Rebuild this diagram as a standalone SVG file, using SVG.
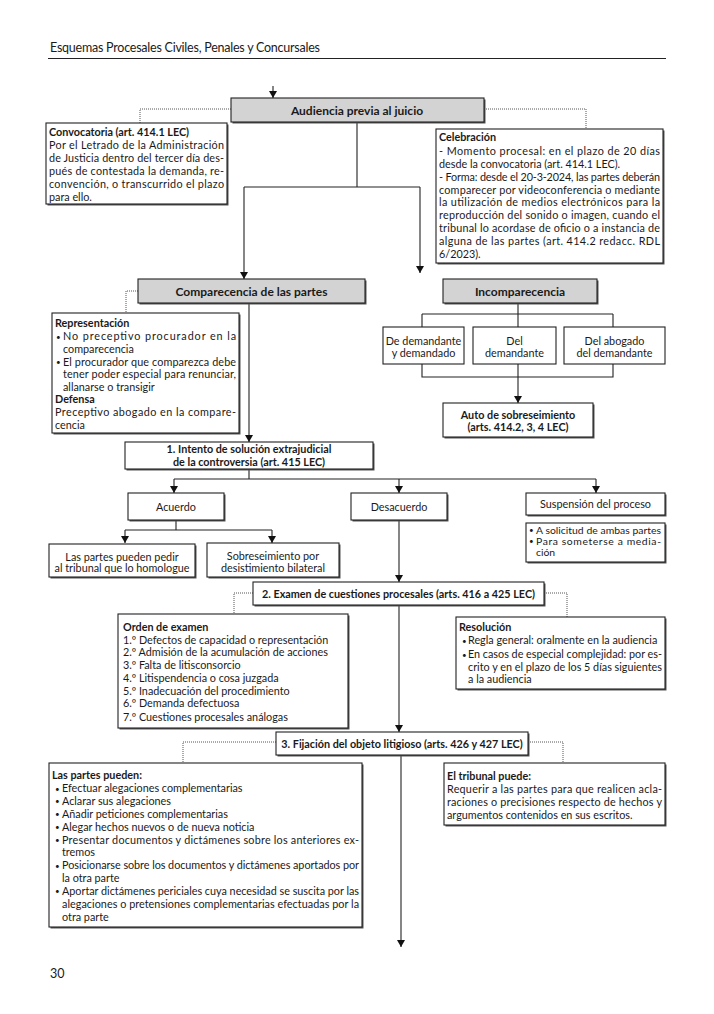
<svg xmlns="http://www.w3.org/2000/svg" width="714" height="1014" viewBox="0 0 714 1014">
<defs>
<marker id="ah" markerUnits="userSpaceOnUse" markerWidth="7" markerHeight="8" refX="7" refY="4" orient="auto" viewBox="0 0 7 8">
<path d="M0,0 L7,4 L0,8 Z" fill="#111"/>
</marker>
</defs>
<style>
text{font-family:Lato,"Liberation Sans",sans-serif;font-size:10.8px;fill:#1a1a1a}
.b{font-weight:bold}
.c{text-anchor:middle}
.h{font-size:12px;font-weight:bold}
.bu{font-size:8px}
.sm{font-size:10.4px}
.box{fill:#fff;stroke:#222;stroke-width:1.1}
.gray{fill:#d3d3d3;stroke:#222;stroke-width:1.1}
.sh{fill:#555}
.ln{fill:none;stroke:#222;stroke-width:1.1}
.ar{fill:none;stroke:#222;stroke-width:1.1;marker-end:url(#ah)}
.dot{fill:none;stroke:#555;stroke-width:1;stroke-dasharray:1 1}
</style>
<rect width="714" height="1014" fill="#fff"/>
<text x="50" y="52" style="font-size:12.5px" textLength="270" lengthAdjust="spacing">Esquemas Procesales Civiles, Penales y Concursales</text>
<line x1="48" y1="58.5" x2="666" y2="58.5" stroke="#222" stroke-width="1"/>
<text x="50" y="978" style="font-size:12.5px">30</text>

<g id="connectors">
<path class="ar" d="M273,86 V98"/>
<path class="ln" d="M357,122 V187 M244,187 H420"/>
<path class="ar" d="M244,187 V279"/>
<path class="ar" d="M420,187 V273"/>
<path class="dot" d="M231,109 H140 V123"/>
<path class="dot" d="M484,109 H586 V129"/>
<path class="dot" d="M138,291 H126 V313"/>
<path class="ar" d="M249,303 V442"/>
<path class="ln" d="M518,303 V327 M422,314 H613 M422,314 V327 M613,314 V327"/>
<path class="ln" d="M422,364 V377 H613 V364"/>
<path class="ar" d="M518,364 V403"/>
<path class="ln" d="M249,469 V479 M174,479 H596"/>
<path class="ar" d="M174,479 V493"/>
<path class="ar" d="M399,479 V493"/>
<path class="ar" d="M596,479 V493"/>
<path class="ln" d="M176,520 V530 M125,530 H272"/>
<path class="ar" d="M125,530 V543"/>
<path class="ar" d="M272,530 V543"/>
<path class="ar" d="M399,520 V582"/>
<path class="dot" d="M253,593 H234 V614"/>
<path class="dot" d="M544,593 H567 V617"/>
<path class="ar" d="M399,605 V732"/>
<path class="dot" d="M276,742 H183 V763"/>
<path class="dot" d="M528,742 H563 V763"/>
<path class="ar" d="M401,755 V947"/>
</g>

<g id="audiencia">
<rect class="sh" x="232.5" y="99.5" width="253" height="24"/>
<rect class="gray" x="231" y="98" width="253" height="24"/>
<text class="h c" x="357" y="115">Audiencia previa al juicio</text>
</g>

<g id="convocatoria">
<rect class="sh" x="47.5" y="124.5" width="181" height="81"/>
<rect class="box" x="46" y="123" width="181" height="81"/>
<text class="b" x="49" y="136">Convocatoria (art. 414.1 LEC)</text>
<text x="49" y="149" textLength="175" lengthAdjust="spacing">Por el Letrado de la Administración</text>
<text x="49" y="162" textLength="175" lengthAdjust="spacing">de Justicia dentro del tercer día des-</text>
<text x="49" y="174.5" textLength="175" lengthAdjust="spacing">pués de contestada la demanda, re-</text>
<text x="49" y="187.5" textLength="175" lengthAdjust="spacing">convención, o transcurrido el plazo</text>
<text x="49" y="200.5">para ello.</text>
</g>

<g id="celebracion">
<rect class="sh" x="437.5" y="130.5" width="227" height="134"/>
<rect class="box" x="436" y="129" width="227" height="134"/>
<text class="b" x="439" y="141">Celebración</text>
<text x="439" y="155" textLength="221" lengthAdjust="spacing">- Momento procesal: en el plazo de 20 días</text>
<text x="439" y="167.5">desde la convocatoria (art. 414.1 LEC).</text>
<text x="439" y="180.5" textLength="221" lengthAdjust="spacing">- Forma: desde el 20-3-2024, las partes deberán</text>
<text x="439" y="193.5" textLength="221" lengthAdjust="spacing">comparecer por videoconferencia o mediante</text>
<text x="439" y="206" textLength="221" lengthAdjust="spacing">la utilización de medios electrónicos para la</text>
<text x="439" y="218.5" textLength="221" lengthAdjust="spacing">reproducción del sonido o imagen, cuando el</text>
<text x="439" y="231.5" textLength="221" lengthAdjust="spacing">tribunal lo acordase de oficio o a instancia de</text>
<text x="439" y="244.5" textLength="221" lengthAdjust="spacing">alguna de las partes (art. 414.2 redacc. RDL</text>
<text x="439" y="257.5">6/2023).</text>
</g>

<g id="comparecencia">
<rect class="sh" x="139.5" y="280.5" width="227" height="24"/>
<rect class="gray" x="138" y="279" width="227" height="24"/>
<text class="h c" x="251.5" y="296">Comparecencia de las partes</text>
</g>

<g id="representacion">
<rect class="sh" x="53.5" y="314.5" width="187" height="120"/>
<rect class="box" x="52" y="313" width="187" height="120"/>
<text class="b" x="55" y="327">Representación</text>
<text class="bu" x="56" y="339.5">•</text>
<text x="63" y="340" textLength="173" lengthAdjust="spacing">No preceptivo procurador en la</text>
<text x="63" y="352.5">comparecencia</text>
<text class="bu" x="56" y="365">•</text>
<text x="63" y="365.5" textLength="173" lengthAdjust="spacing">El procurador que comparezca debe</text>
<text x="63" y="378" textLength="173" lengthAdjust="spacing">tener poder especial para renunciar,</text>
<text x="63" y="390.5">allanarse o transigir</text>
<text class="b" x="55" y="403">Defensa</text>
<text x="55" y="416" textLength="181" lengthAdjust="spacing">Preceptivo abogado en la compare-</text>
<text x="55" y="428.5">cencia</text>
</g>

<g id="incomparecencia">
<rect class="sh" x="444.5" y="280.5" width="154" height="24"/>
<rect class="gray" x="443" y="279" width="154" height="24"/>
<text class="h c" x="520" y="296">Incomparecencia</text>
</g>

<g id="inc-ambos">
<rect class="box" x="383" y="327" width="81" height="37"/>
<text class="c" x="423.5" y="344.5">De demandante</text>
<text class="c" x="423.5" y="357">y demandado</text>
</g>
<g id="inc-demandante">
<rect class="box" x="473" y="327" width="83" height="37"/>
<text class="c" x="514.5" y="344.5">Del</text>
<text class="c" x="514.5" y="357">demandante</text>
</g>
<g id="inc-abogado">
<rect class="box" x="564" y="327" width="101" height="37"/>
<text class="c" x="614.5" y="344.5">Del abogado</text>
<text class="c" x="614.5" y="357">del demandante</text>
</g>

<g id="auto">
<rect class="sh" x="444.5" y="404.5" width="150" height="34"/>
<rect class="box" x="443" y="403" width="150" height="34"/>
<text class="b c" x="518" y="419">Auto de sobreseimiento</text>
<text class="b c" x="518" y="431">(arts. 414.2, 3, 4 LEC)</text>
</g>

<g id="intento">
<rect class="sh" x="126.5" y="443.5" width="248" height="27"/>
<rect class="box" x="125" y="442" width="248" height="27"/>
<text class="b c" x="249" y="453">1. Intento de solución extrajudicial</text>
<text class="b c" x="249" y="466">de la controversia (art. 415 LEC)</text>
</g>

<g id="acuerdo">
<rect class="sh" x="129.5" y="494.5" width="96" height="27"/>
<rect class="box" x="128" y="493" width="96" height="27"/>
<text class="c" x="176" y="510.5">Acuerdo</text>
</g>

<g id="desacuerdo">
<rect class="sh" x="352.5" y="494.5" width="96" height="27"/>
<rect class="box" x="351" y="493" width="96" height="27"/>
<text class="c" x="399" y="510.5">Desacuerdo</text>
</g>

<g id="suspension">
<rect class="sh" x="527.5" y="494.5" width="139" height="22"/>
<rect class="box" x="526" y="493" width="139" height="22"/>
<text class="c" x="595.5" y="508">Suspensión del proceso</text>
</g>

<g id="suspension-detalle">
<rect class="sh" x="527.5" y="524.5" width="139" height="39"/>
<rect class="box" x="526" y="523" width="139" height="39"/>
<text class="bu" x="529" y="533">•</text>
<text class="sm" x="536" y="533.5" textLength="125" lengthAdjust="spacing">A solicitud de ambas partes</text>
<text class="bu" x="529" y="544">•</text>
<text class="sm" x="536" y="544.5" textLength="125" lengthAdjust="spacing">Para someterse a media-</text>
<text class="sm" x="536" y="555.5">ción</text>
</g>

<g id="homologue">
<rect class="sh" x="50.5" y="545.5" width="146" height="33"/>
<rect class="box" x="49" y="544" width="146" height="33"/>
<text class="c" x="122" y="560.5">Las partes pueden pedir</text>
<text class="c" x="122" y="572">al tribunal que lo homologue</text>
</g>

<g id="sobreseimiento">
<rect class="sh" x="208.5" y="544.5" width="132" height="34"/>
<rect class="box" x="207" y="543" width="132" height="34"/>
<text class="c" x="273" y="560">Sobreseimiento por</text>
<text class="c" x="273" y="572">desistimiento bilateral</text>
</g>

<g id="examen">
<rect class="sh" x="254.5" y="583.5" width="291" height="23"/>
<rect class="box" x="253" y="582" width="291" height="23"/>
<text class="b c" x="398.5" y="598">2. Examen de cuestiones procesales (arts. 416 a 425 LEC)</text>
</g>

<g id="orden">
<rect class="sh" x="119.5" y="615.5" width="230" height="114"/>
<rect class="box" x="118" y="614" width="230" height="114"/>
<text class="b" x="123" y="631">Orden de examen</text>
<text x="123" y="643.5">1.º Defectos de capacidad o representación</text>
<text x="123" y="656">2.º Admisión de la acumulación de acciones</text>
<text x="123" y="669">3.º Falta de litisconsorcio</text>
<text x="123" y="682">4.º Litispendencia o cosa juzgada</text>
<text x="123" y="694.5">5.º Inadecuación del procedimiento</text>
<text x="123" y="707">6.º Demanda defectuosa</text>
<text x="123" y="720.5">7.º Cuestiones procesales análogas</text>
</g>

<g id="resolucion">
<rect class="sh" x="457.5" y="618.5" width="209" height="72"/>
<rect class="box" x="456" y="617" width="209" height="72"/>
<text class="b" x="459" y="631">Resolución</text>
<text class="bu" x="462" y="643.5">•</text>
<text x="468" y="644">Regla general: oralmente en la audiencia</text>
<text class="bu" x="462" y="657.5">•</text>
<text x="468" y="658" textLength="194" lengthAdjust="spacing">En casos de especial complejidad: por es-</text>
<text x="468" y="670.5" textLength="194" lengthAdjust="spacing">crito y en el plazo de los 5 días siguientes</text>
<text x="468" y="683">a la audiencia</text>
</g>

<g id="fijacion">
<rect class="sh" x="277.5" y="733.5" width="252" height="23"/>
<rect class="box" x="276" y="732" width="252" height="23"/>
<text class="b c" x="402" y="748">3. Fijación del objeto litigioso (arts. 426 y 427 LEC)</text>
</g>

<g id="partes-pueden">
<rect class="sh" x="50.5" y="764.5" width="313" height="164"/>
<rect class="box" x="49" y="763" width="313" height="164"/>
<text class="b" x="52" y="779">Las partes pueden:</text>
<text class="bu" x="55" y="791.5">•</text>
<text x="62" y="792">Efectuar alegaciones complementarias</text>
<text class="bu" x="55" y="804">•</text>
<text x="62" y="804.5">Aclarar sus alegaciones</text>
<text class="bu" x="55" y="817">•</text>
<text x="62" y="817.5">Añadir peticiones complementarias</text>
<text class="bu" x="55" y="830">•</text>
<text x="62" y="830.5">Alegar hechos nuevos o de nueva noticia</text>
<text class="bu" x="55" y="843">•</text>
<text x="62" y="843.5" textLength="297" lengthAdjust="spacing">Presentar documentos y dictámenes sobre los anteriores ex-</text>
<text x="62" y="856">tremos</text>
<text class="bu" x="55" y="868.5">•</text>
<text x="62" y="869" textLength="297" lengthAdjust="spacing">Posicionarse sobre los documentos y dictámenes aportados por</text>
<text x="62" y="882">la otra parte</text>
<text class="bu" x="55" y="894">•</text>
<text x="62" y="894.5" textLength="297" lengthAdjust="spacing">Aportar dictámenes periciales cuya necesidad se suscita por las</text>
<text x="62" y="907.5" textLength="297" lengthAdjust="spacing">alegaciones o pretensiones complementarias efectuadas por la</text>
<text x="62" y="921">otra parte</text>
</g>

<g id="tribunal-puede">
<rect class="sh" x="445.5" y="764.5" width="221" height="62"/>
<rect class="box" x="444" y="763" width="221" height="62"/>
<text class="b" x="447" y="780">El tribunal puede:</text>
<text x="447" y="792.5" textLength="215" lengthAdjust="spacing">Requerir a las partes para que realicen acla-</text>
<text x="447" y="805.5" textLength="215" lengthAdjust="spacing">raciones o precisiones respecto de hechos y</text>
<text x="447" y="818.5">argumentos contenidos en sus escritos.</text>
</g>
</svg>
